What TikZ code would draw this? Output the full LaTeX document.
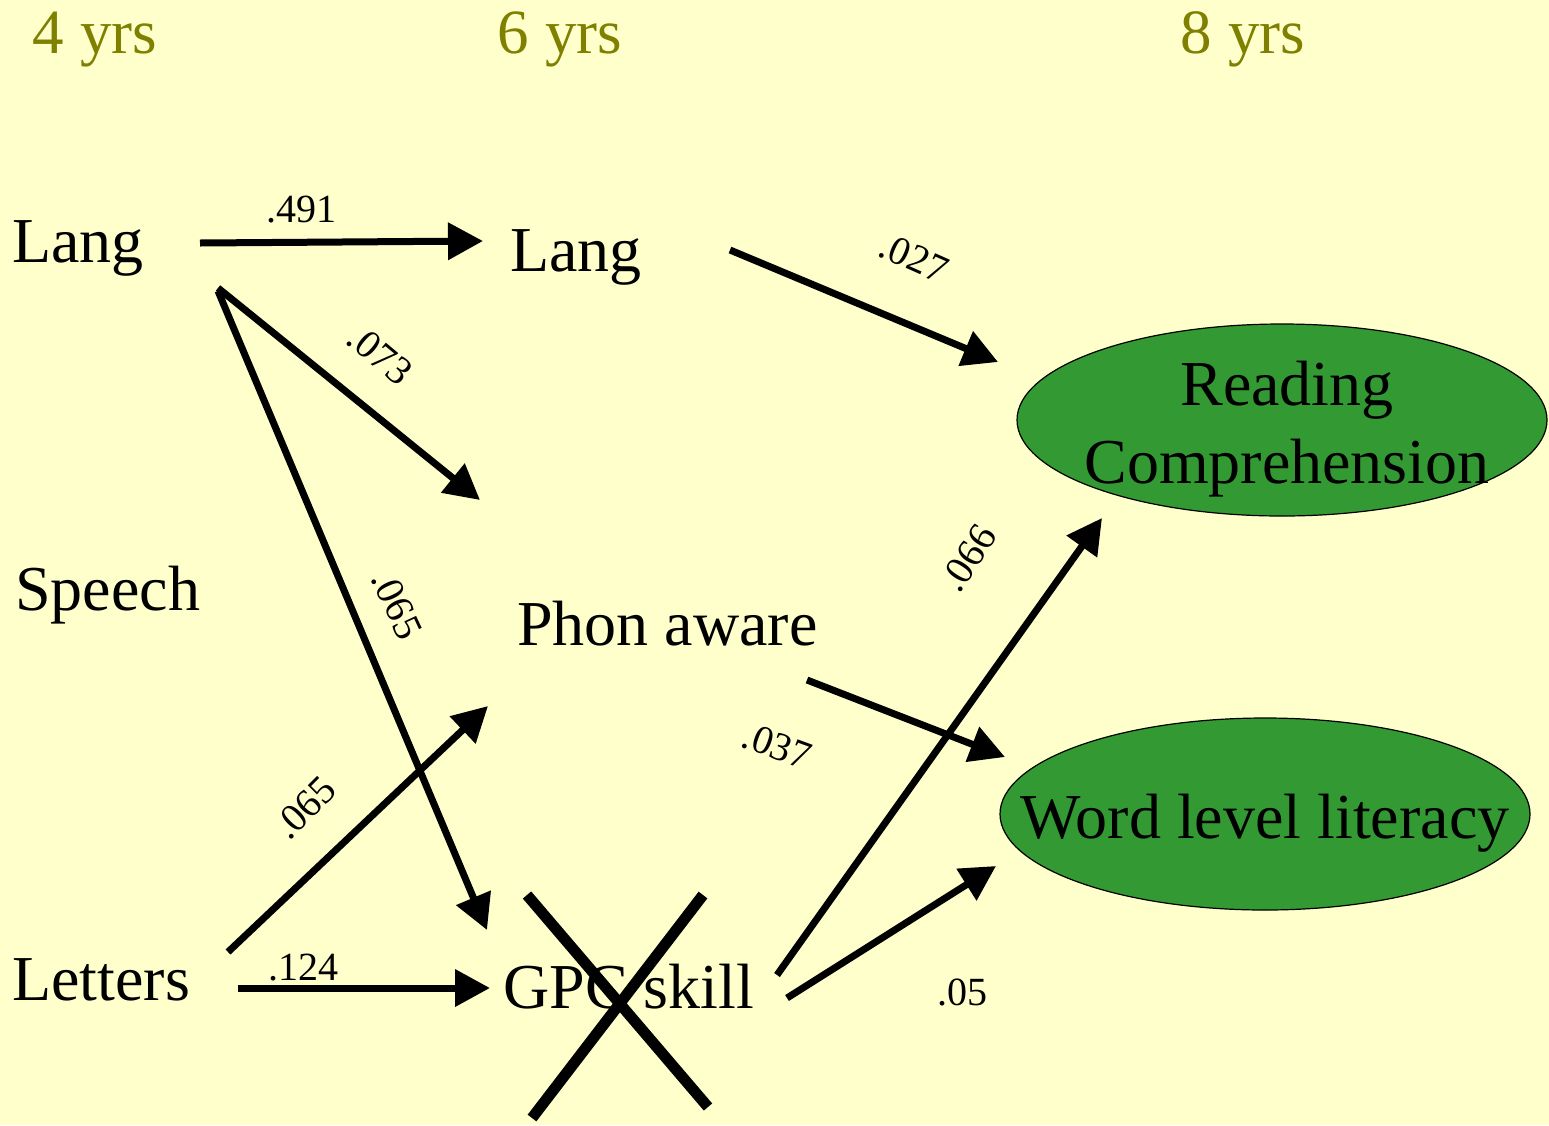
\documentclass[tikz,border=0pt]{standalone}
\usepackage{fontspec}
\setmainfont{Liberation Serif}
\usetikzlibrary{arrows.meta,shapes.geometric}
\definecolor{paper}{RGB}{255,255,204}
\definecolor{agecol}{RGB}{128,128,0}
\definecolor{goalfill}{RGB}{51,153,51}
\begin{document}
\begin{tikzpicture}[x=1pt,y=-1pt,
  measure/.style={font=\fontsize{64}{70}\selectfont, inner sep=0pt, anchor=base west},
  age/.style={font=\fontsize{63}{70}\selectfont, text=agecol, inner sep=0pt, anchor=base},
  coef/.style={font=\fontsize{40}{44}\selectfont, inner sep=0pt},
  goal/.style={ellipse, draw=black, line width=1.2pt, fill=goalfill,
    minimum width=530pt, minimum height=192pt, inner sep=0pt},
  goaltext/.style={font=\fontsize{64}{78}\selectfont, inner sep=0pt, align=center, anchor=base},
  link/.style={line width=7pt, -{Triangle[length=35pt,width=36pt]}},
  strike/.style={line width=11pt}
]
% page and background
\fill[paper] (0,0) rectangle (1549,1125);
\useasboundingbox (0,0) rectangle (1549,1125);

% age columns
\node[age] (age4) at (95,53) {4 yrs};
\node[age] (age6) at (560,53) {6 yrs};
\node[age] (age8) at (1243,53) {8 yrs};

% measures
\node[measure] (lang4)   at (12,262)   {Lang};
\node[measure] (speech)  at (15,610)   {Speech};
\node[measure] (letters) at (12,1000)  {Letters};
\node[measure] (lang6)   at (510,271)  {Lang};
\node[measure] (phon)    at (517,645)  {Phon aware};
\node[measure] (gpc)     at (503,1008) {GPC skill};

% outcomes at 8 years
\node[goal] (rc) at (1282,420) {};
\node[goaltext] (rctext) at (1287,483) {Reading\\Comprehension};
\node[goal] (wl) at (1265,814) {};
\node[goaltext] (wltext) at (1265,838) {Word level literacy};

% connector end points
\coordinate (lang4-a) at (200,243);
\coordinate (lang4-b) at (218,288);
\coordinate (lang4-c) at (218,291);
\coordinate (lang6-in) at (483,241);
\coordinate (lang6-out) at (730,250);
\coordinate (phon-in1) at (480,500);
\coordinate (phon-in2) at (488,706);
\coordinate (phon-out) at (807,680);
\coordinate (letters-a) at (228,952);
\coordinate (letters-b) at (238,988);
\coordinate (gpc-in1) at (487,930);
\coordinate (gpc-in2) at (490,988);
\coordinate (gpc-out1) at (777,975);
\coordinate (gpc-out2) at (787,998);
\coordinate (rc-in1) at (998,362);
\coordinate (rc-in2) at (1102,518);
\coordinate (wl-in1) at (1005,757);
\coordinate (wl-in2) at (996,866);

% paths
\draw[link] (lang4-a) -- (lang6-in);
\draw[link] (lang4-b) -- (phon-in1);
\draw[link] (lang4-c) -- (gpc-in1);
\draw[link] (lang6-out) -- (rc-in1);
\draw[link] (letters-a) -- (phon-in2);
\draw[link] (letters-b) -- (gpc-in2);
\draw[link] (phon-out) -- (wl-in1);
\draw[link] (gpc-out1) -- (rc-in2);
\draw[link] (gpc-out2) -- (wl-in2);

% path coefficients
\node[coef, anchor=base] (c491) at (301,222) {.491};
\node[coef, anchor=base] (c124) at (303,980) {.124};
\node[coef, anchor=base] (c05)  at (962,1005) {.05};
\node[coef, rotate=-24] (c027) at (914,258) {.027};
\node[coef, rotate=-40] (c073) at (380,355) {.073};
\node[coef, rotate=-65] (c065a) at (397,605) {.065};
\node[coef, rotate=45]  (c065b) at (305,808) {.065};
\node[coef, rotate=57]  (c066) at (968,558) {.066};
\node[coef, rotate=-20] (c037) at (777,746) {.037};

% GPC skill struck out
\coordinate (x1a) at (527,895);
\coordinate (x1b) at (708,1107);
\coordinate (x2a) at (703,895);
\coordinate (x2b) at (532,1118);
\draw[strike] (x1a) -- (x1b);
\draw[strike] (x2a) -- (x2b);
\end{tikzpicture}
\end{document}
